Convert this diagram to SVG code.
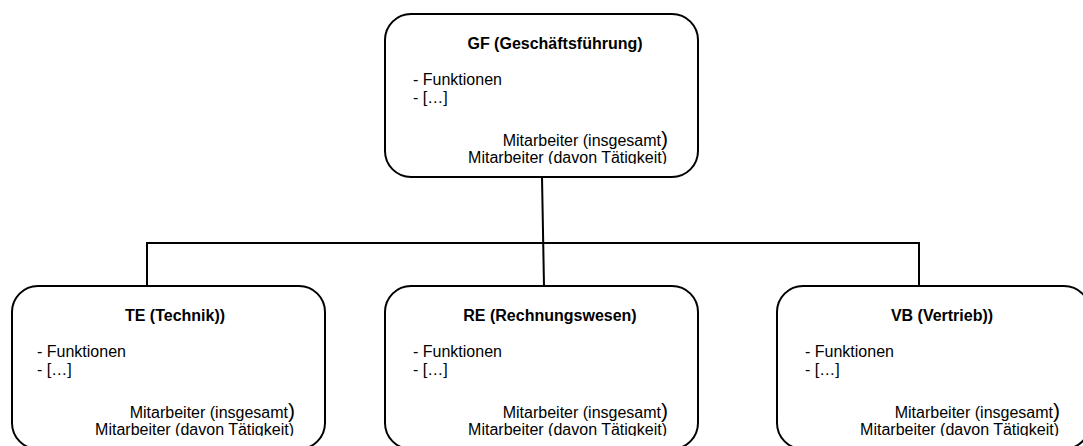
<svg xmlns="http://www.w3.org/2000/svg" width="1083" height="446" viewBox="0 0 1083 446">
<defs>
<style>
.box{fill:#fff;stroke:#000;stroke-width:2}
.conn{stroke:#000;stroke-width:2;fill:none}
text{font-family:"Liberation Sans",Arial,sans-serif;fill:#000}
.title{font-size:16px;font-weight:bold;text-anchor:middle}
.body{font-size:16px}
.right{font-size:16px;text-anchor:end}
.big{font-size:21px}
</style>
<clipPath id="cGF"><rect x="385" y="14" width="313" height="150"/></clipPath>
<clipPath id="cTE"><rect x="12" y="286" width="313" height="150"/></clipPath>
<clipPath id="cRE"><rect x="385" y="286" width="313" height="150"/></clipPath>
<clipPath id="cVB"><rect x="777" y="286" width="313" height="150"/></clipPath>
</defs>
<rect width="1083" height="446" fill="#fff"/>
<g id="connectors">
<line class="conn" x1="542" y1="177" x2="544" y2="286"/>
<line class="conn" x1="147" y1="243" x2="919" y2="243"/>
<line class="conn" x1="147" y1="242" x2="147" y2="286"/>
<line class="conn" x1="919" y1="242" x2="919" y2="286"/>
</g>
<g id="GF">
<rect class="box" x="385" y="14" width="313" height="163" rx="26"/>
<g clip-path="url(#cGF)">
<text class="title" x="555" y="49">GF (Geschäftsführung)</text>
<text class="body" x="413" y="85">- Funktionen</text>
<text class="body" x="413" y="103">- […]</text>
<text class="right" x="668" y="146">Mitarbeiter (insgesamt<tspan class="big">)</tspan></text>
<text class="right" x="667" y="163">Mitarbeiter (davon Tätigkeit)</text>
</g>
</g>
<g id="TE">
<rect class="box" x="12" y="286" width="313" height="163" rx="26"/>
<g clip-path="url(#cTE)">
<text class="title" x="175" y="321">TE (Technik))</text>
<text class="body" x="37" y="357">- Funktionen</text>
<text class="body" x="37" y="375">- […]</text>
<text class="right" x="295" y="418">Mitarbeiter (insgesamt<tspan class="big">)</tspan></text>
<text class="right" x="294" y="435">Mitarbeiter (davon Tätigkeit)</text>
</g>
</g>
<g id="RE">
<rect class="box" x="385" y="286" width="313" height="163" rx="26"/>
<g clip-path="url(#cRE)">
<text class="title" x="550" y="321">RE (Rechnungswesen)</text>
<text class="body" x="413" y="357">- Funktionen</text>
<text class="body" x="413" y="375">- […]</text>
<text class="right" x="668" y="418">Mitarbeiter (insgesamt<tspan class="big">)</tspan></text>
<text class="right" x="667" y="435">Mitarbeiter (davon Tätigkeit)</text>
</g>
</g>
<g id="VB">
<rect class="box" x="777" y="286" width="313" height="163" rx="26"/>
<g clip-path="url(#cVB)">
<text class="title" x="942" y="321">VB (Vertrieb))</text>
<text class="body" x="805" y="357">- Funktionen</text>
<text class="body" x="805" y="375">- […]</text>
<text class="right" x="1060" y="418">Mitarbeiter (insgesamt<tspan class="big">)</tspan></text>
<text class="right" x="1059" y="435">Mitarbeiter (davon Tätigkeit)</text>
</g>
</g>
</svg>
